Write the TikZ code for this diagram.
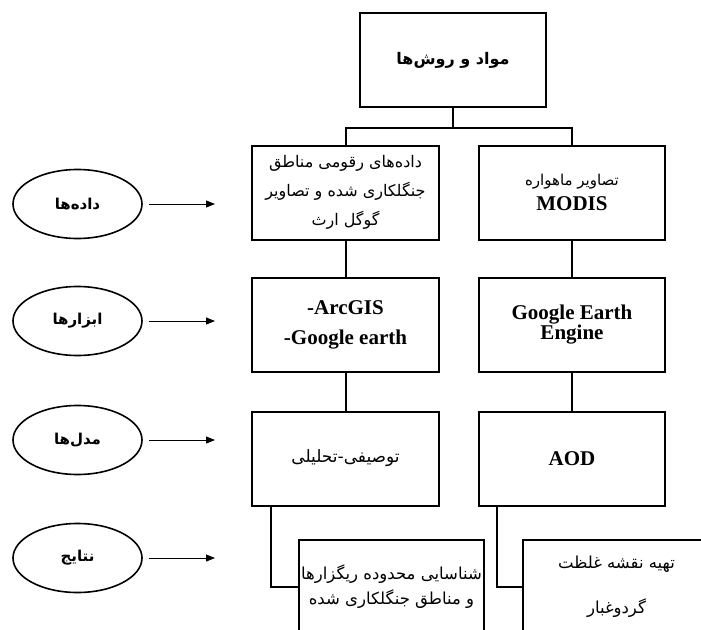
\documentclass[tikz,border=0pt]{standalone}
\usepackage{fontspec}
\setmainfont{Liberation Serif}
\newfontfamily\arabicfont[Script=Arabic]{DejaVu Sans}
\TeXXeTstate=1
\newcommand{\fa}[1]{{\arabicfont\beginR #1\endR}}
\usetikzlibrary{positioning,shapes.geometric,arrows.meta}

\begin{document}
\begin{tikzpicture}[
    x=1pt, y=-1pt,
    node distance=36pt and 38pt,
    every node/.style={font=\bfseries\fontsize{21}{22}\selectfont},
    box/.style={draw, line width=2pt, minimum width=187pt, minimum height=94pt, align=center, inner sep=0pt},
    oval/.style={draw, ellipse, line width=1.6pt, minimum width=129pt, minimum height=69pt, inner sep=0pt, font=\bfseries\fontsize{15}{16}\selectfont},
    link/.style={line width=2pt},
    arrow/.style={line width=0.8pt, -{Triangle[length=9pt,width=7pt]}, shorten <=6pt},
    fatext/.style={font=\mdseries\fontsize{16}{29}\selectfont}
]

% 页面边界
\useasboundingbox (0,0) rectangle (701,629);
\clip (0,0) rectangle (701,629);

% 顶部节点
\node[box, minimum width=186pt, font=\bfseries\fontsize{16}{18}\selectfont] (top) at (453,60) {\fa{مواد و روش‌ها}};

% 数据行
\node[box, fatext] (dataL) at (345.5,192.5) {\fa{داده‌های رقومی مناطق}\\ \fa{جنگلکاری شده و تصاویر}\\ \fa{گوگل ارث}};
\node[box, minimum width=186pt, font=\mdseries\fontsize{15}{25}\selectfont, right=of dataL] (dataR) {\fa{تصاویر ماهواره}\\ \textbf{\fontsize{21}{25}\selectfont MODIS}};

% 工具行
\node[box, font=\bfseries\fontsize{21}{30}\selectfont, below=of dataL] (toolL) {-ArcGIS\\ -Google earth};
\node[box, minimum width=186pt, font=\bfseries\fontsize{21}{20}\selectfont, below=of dataR] (toolR) {Google Earth\\ Engine};

% 模型行
\node[box, font=\mdseries\fontsize{17}{20}\selectfont, below=38pt of toolL] (modelL) {\fa{توصیفی-تحلیلی}};
\node[box, minimum width=186pt, below=38pt of toolR] (modelR) {AOD};

% 结果行
\node[box, minimum width=185pt, font=\mdseries\fontsize{16.5}{25}\selectfont] (resL) at (391.5,587) {\fa{شناسایی محدوده ریگزارها}\\ \fa{و مناطق جنگلکاری شده}};
\node[box, font=\mdseries\fontsize{16.5}{45}\selectfont] (resR) at (616.5,587) {\fa{تهیه نقشه غلظت}\\ \fa{گردوغبار}};

% 左侧椭圆
\node[oval] (ovData) at (77.5,204) {\fa{داده‌ها}};
\node[oval] (ovTool) at (77.5,321) {\fa{ابزارها}};
\node[oval] (ovModel) at (77.5,440) {\fa{مدل‌ها}};
\node[oval] (ovRes) at (77.5,558) {\fa{نتایج}};

\coordinate (tipData) at (215,204);
\coordinate (tipTool) at (215,321);
\coordinate (tipModel) at (215,440);
\coordinate (tipRes) at (215,558);

% 箭头
\draw[arrow] (ovData) -- (tipData);
\draw[arrow] (ovTool) -- (tipTool);
\draw[arrow] (ovModel) -- (tipModel);
\draw[arrow] (ovRes) -- (tipRes);

% 连接线
\draw[link] (top.south) -- ++(0,20) -| (dataL.north);
\draw[link] (top.south) -- ++(0,20) -| (dataR.north);
\draw[link] (dataL) -- (toolL);
\draw[link] (dataR) -- (toolR);
\draw[link] (toolL) -- (modelL);
\draw[link] (toolR) -- (modelR);
\draw[link] ([xshift=20pt]modelL.south west) |- (resL.west);
\draw[link] ([xshift=19pt]modelR.south west) |- (resR.west);

\end{tikzpicture}
\end{document}
